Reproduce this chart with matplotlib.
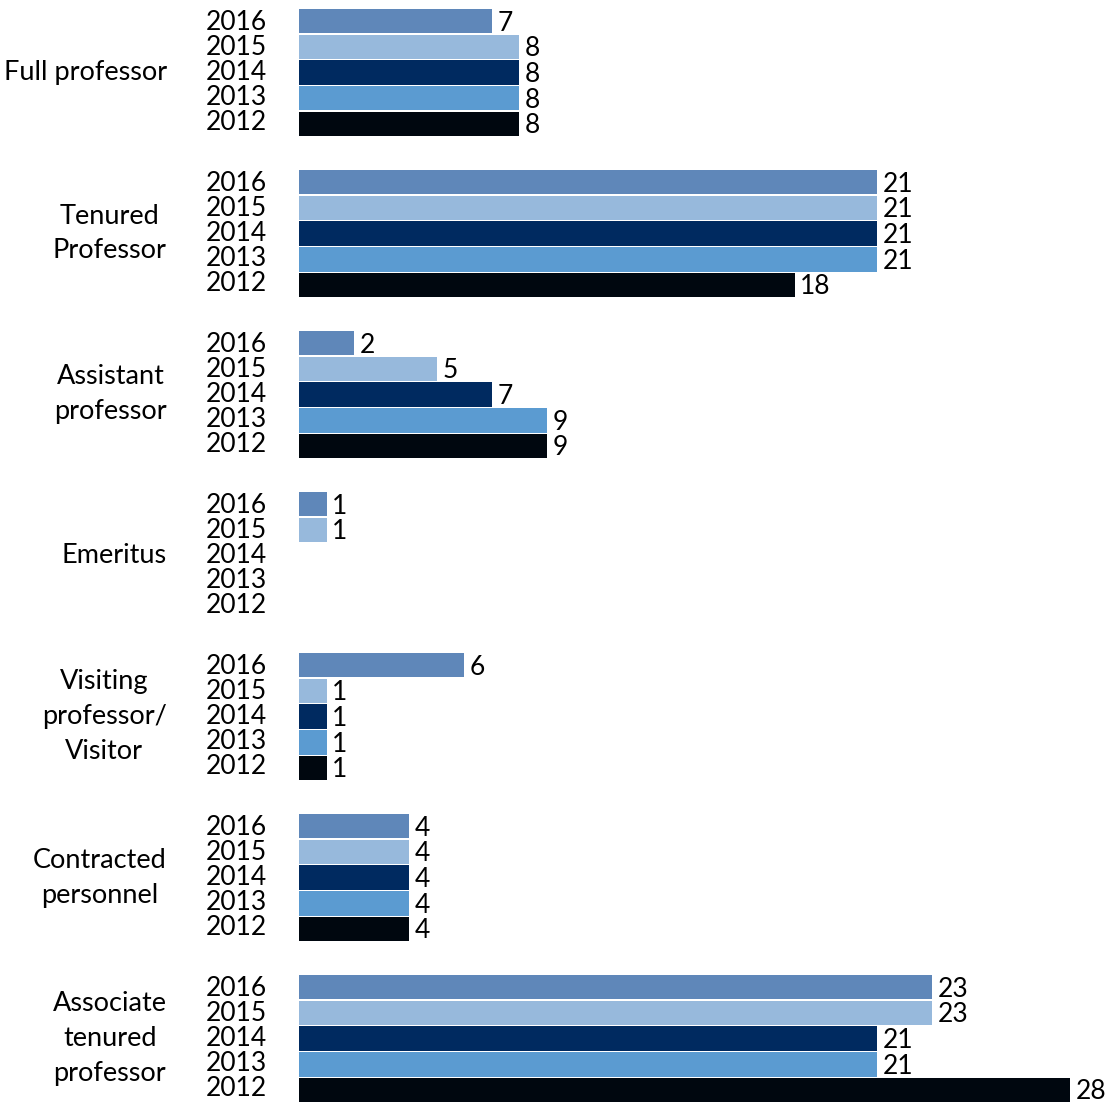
import matplotlib
matplotlib.use("Agg")
import matplotlib.pyplot as plt
import numpy as np

categories = ["Full professor", "Tenured\nProfessor", "Assistant\nprofessor", "Emeritus",
              "Visiting\nprofessor/\nVisitor", "Contracted\npersonnel", "Associate\ntenured\nprofessor"]
years = ["2016", "2015", "2014", "2013", "2012"]
v2016 = [7, 21, 2, 1, 6, 4, 23]
v2015 = [8, 21, 5, 1, 1, 4, 23]
v2014 = [8, 21, 7, None, 1, 4, 21]
v2013 = [8, 21, 9, None, 1, 4, 21]
v2012 = [8, 18, 9, None, 1, 4, 28]
series = [v2016, v2015, v2014, v2013, v2012]
colors = ["#5f87b9", "#97b9dc", "#002a60", "#5b9bd1", "#00070f"]

plt.rcParams['font.family'] = ['Lato', 'DejaVu Sans']
W, H = 1111, 1106
fig = plt.figure(figsize=(W / 100, H / 100), dpi=100)
x0 = 299
ax = fig.add_axes([x0 / W, 0, (W - x0) / W, 1])
unit = (1070 - 299) / 28.0
ax.set_xlim(0, (W - x0) / unit)
ax.set_ylim(H, 0)
ax.axis('off')

gc0, gstep, bstep, bh = 72.5, 161.0, 25.7, 24.6
fs = 19
for i, cat in enumerate(categories):
    c = gc0 + i * gstep
    for j, (vals, col) in enumerate(zip(series, colors)):
        y = c + (j - 2) * bstep
        ax.text(-1.17, y - (j - 2) * 0.8, years[j], ha='right', va='center', fontsize=fs, color='black')
        v = vals[i]
        if v is None:
            continue
        ax.barh(y, v, height=bh, color=col, edgecolor='none')
        ax.text(v + 0.2, y + 2, str(v), ha='left', va='center', fontsize=fs, color='black')
    ax.text(-4.8, c, cat, ha='right', va='center', multialignment='center',
            fontsize=19.5, color='black', linespacing=1.5)

fig.savefig("out.png", dpi=100)
